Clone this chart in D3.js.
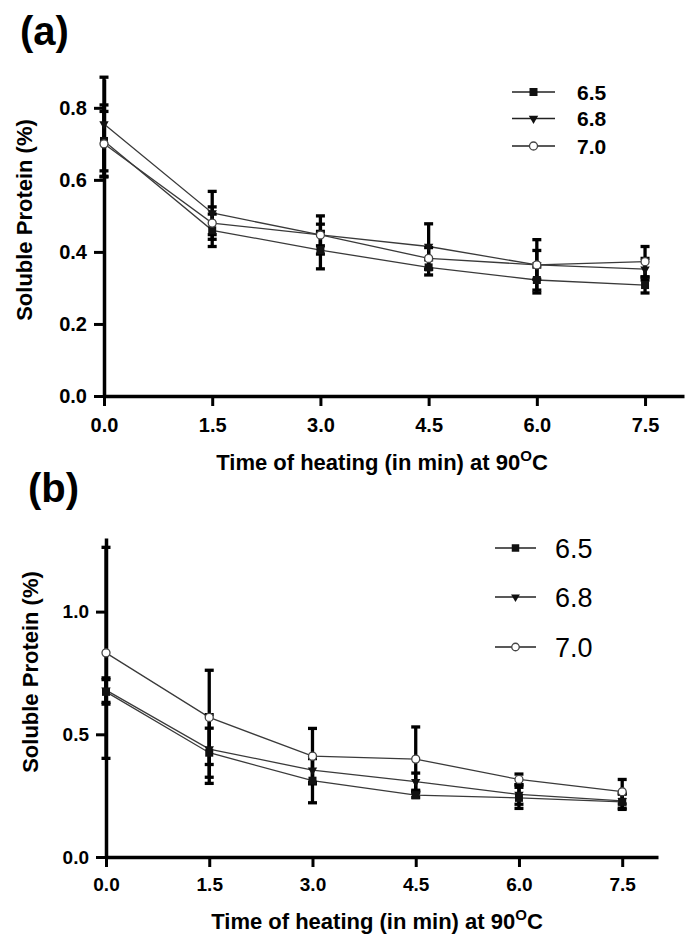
<!DOCTYPE html>
<html><head><meta charset="utf-8">
<script src="https://cdn.jsdelivr.net/npm/d3@7"></script>
<style>body{margin:0;background:#fff} svg{display:block}</style>
</head><body><svg id="c" width="686" height="937"></svg>
<script>
// ---------- data ----------
const times = [0, 1.5, 3.0, 4.5, 6.0, 7.5];
const xTicks = [0, 1.5, 3.0, 4.5, 6.0, 7.5];
const seriesNames = ["6.5", "6.8", "7.0"];

// panel (a)
const a65 = [0.708, 0.460, 0.405, 0.357, 0.322, 0.308];
const a65Err = [0.100, 0.045, 0.052, 0.021, 0.036, 0.022];
const a68 = [0.755, 0.508, 0.447, 0.415, 0.364, 0.352];
const a68Err = [0.130, 0.060, 0.053, 0.063, 0.070, 0.030];
const a70 = [0.700, 0.480, 0.447, 0.382, 0.364, 0.373];
const a70Err = [0.090, 0.045, 0.030, 0.030, 0.040, 0.042];
const aYTicks = [0, 0.2, 0.4, 0.6, 0.8];

// panel (b)
const b65 = [0.673, 0.425, 0.311, 0.252, 0.241, 0.225];
const b65Err = [0.050, 0.100, 0.090, 0.010, 0.043, 0.031];
const b68 = [0.680, 0.440, 0.354, 0.307, 0.255, 0.229];
const b68Err = [0.050, 0.140, 0.050, 0.035, 0.040, 0.030];
const b70 = [0.832, 0.569, 0.411, 0.399, 0.316, 0.266];
const b70Err = [0.430, 0.192, 0.113, 0.131, 0.022, 0.050];
const bYTicks = [0, 0.5, 1.0];

const yTitle = "Soluble Protein (%)";
const xTitleMain = "Time of heating (in min) at 90";

// ---------- drawing ----------
const svg = d3.select("#c");
const FONT = "'Liberation Sans', Arial, Helvetica, sans-serif";
const markerTypes = ["square", "triangle", "circle"];

function drawMarker(g, type, cx, cy, s) {
  if (type === "square") {
    g.append("path").attr("d", d3.symbol(d3.symbolSquare, s * s)())
      .attr("transform", `translate(${cx},${cy})`).attr("fill", "#111");
  } else if (type === "triangle") {
    g.append("path").attr("d", d3.symbol(d3.symbolTriangle, s * s * 0.6)())
      .attr("transform", `translate(${cx},${cy}) rotate(180)`).attr("fill", "#111");
  } else {
    g.append("circle").attr("cx", cx).attr("cy", cy).attr("r", s / 2)
      .attr("fill", "#fff").attr("stroke", "#444").attr("stroke-width", 1.3);
  }
}

function panel(o) {
  const g = svg.append("g");
  const x = d3.scaleLinear().domain([0, o.xMax]).range([o.x0, o.x1]);
  const y = d3.scaleLinear().domain([0, o.yMax]).range([o.y0, o.y1]);

  // axes
  const xa = g.append("g").attr("transform", `translate(0,${o.y0})`)
    .call(d3.axisBottom(x).tickValues(xTicks).tickFormat(d3.format(".1f"))
      .tickSize(10).tickSizeOuter(0).tickPadding(o.xPad));
  const ya = g.append("g").attr("transform", `translate(${o.x0},0)`)
    .call(d3.axisLeft(y).tickValues(o.yTicks).tickFormat(d3.format(".1f"))
      .tickSize(10).tickSizeOuter(0).tickPadding(7));
  [xa, ya].forEach(a => {
    a.select(".domain").attr("stroke", "#000").attr("stroke-width", 3.5);
    a.selectAll(".tick line").attr("stroke", "#000").attr("stroke-width", 3);
    a.selectAll(".tick text").attr("fill", "#000")
      .style("font-family", FONT).style("font-weight", "bold")
      .style("font-size", o.tickFont + "px");
  });

  const series = o.series;
  // lines
  const line = d3.line().x((d, i) => x(times[i])).y(d => y(d));
  series.forEach(s => {
    g.append("path").datum(s.v).attr("d", line)
      .attr("fill", "none").attr("stroke", "#3a3a3a").attr("stroke-width", 1.3);
  });
  // error bars
  series.forEach(s => {
    s.v.forEach((v, i) => {
      const cx = x(times[i]);
      const top = y(v + s.e[i]), bot = y(v - s.e[i]);
      g.append("line").attr("x1", cx).attr("x2", cx).attr("y1", top).attr("y2", bot)
        .attr("stroke", "#000").attr("stroke-width", 3.3);
      [top, bot].forEach(yy => g.append("line")
        .attr("x1", cx - 4.5).attr("x2", cx + 4.5).attr("y1", yy).attr("y2", yy)
        .attr("stroke", "#000").attr("stroke-width", 3.3));
    });
  });
  // markers
  series.forEach((s, k) => {
    s.v.forEach((v, i) => drawMarker(g, markerTypes[k], x(times[i]), y(v), o.mSize));
  });

  // titles
  g.append("text").attr("transform", `translate(${o.yTitleX},${o.yTitleY}) rotate(-90)`)
    .attr("text-anchor", "middle").attr("dy", "0.35em")
    .style("font-family", FONT).style("font-weight", "bold").style("font-size", "22px")
    .text(yTitle);
  const xt = g.append("text").attr("x", o.xTitleX).attr("y", o.xTitleY)
    .attr("text-anchor", "middle")
    .style("font-family", FONT).style("font-weight", "bold").style("font-size", "22px");
  xt.append("tspan").text(xTitleMain);
  xt.append("tspan").attr("dy", -9).style("font-size", "15px").text("O");
  xt.append("tspan").attr("dy", 9).text("C");

  g.append("text").attr("x", o.labX).attr("y", o.labY)
    .style("font-family", FONT).style("font-weight", "bold").style("font-size", "40px")
    .text(o.label);

  // legend
  seriesNames.forEach((n, k) => {
    const ly = o.leg.ys[k];
    g.append("line").attr("x1", o.leg.x0).attr("x2", o.leg.x1).attr("y1", ly).attr("y2", ly)
      .attr("stroke", "#222").attr("stroke-width", 1.6);
    drawMarker(g, markerTypes[k], (o.leg.x0 + o.leg.x1) / 2, ly, o.leg.m);
    g.append("text").attr("x", o.leg.tx).attr("y", ly).attr("dy", "0.36em")
      .style("font-family", FONT).style("font-weight", o.leg.weight)
      .style("font-size", o.leg.font + "px").text(n);
  });
}

panel({
  label: "(a)", labX: 20, labY: 45,
  x0: 104, x1: 684, xMax: 8.04,
  y0: 396, y1: 79, yMax: 0.88, yTicks: aYTicks,
  xPad: 12, tickFont: 20, mSize: 8,
  yTitleX: 24, yTitleY: 220, xTitleX: 382, xTitleY: 470,
  series: [{v: a65, e: a65Err}, {v: a68, e: a68Err}, {v: a70, e: a70Err}],
  leg: {x0: 512, x1: 555, ys: [92, 118.5, 146], tx: 577, font: 21, weight: "bold", m: 8}
});

panel({
  label: "(b)", labX: 28, labY: 502,
  x0: 106, x1: 658, xMax: 8.02,
  y0: 857, y1: 538, yMax: 1.30, yTicks: bYTicks,
  xPad: 11, tickFont: 19, mSize: 8,
  yTitleX: 30, yTitleY: 672, xTitleX: 377, xTitleY: 929,
  series: [{v: b65, e: b65Err}, {v: b68, e: b68Err}, {v: b70, e: b70Err}],
  leg: {x0: 495, x1: 536, ys: [548, 597, 647], tx: 555, font: 27, weight: "normal", m: 7.5}
});
</script>
</body></html>
